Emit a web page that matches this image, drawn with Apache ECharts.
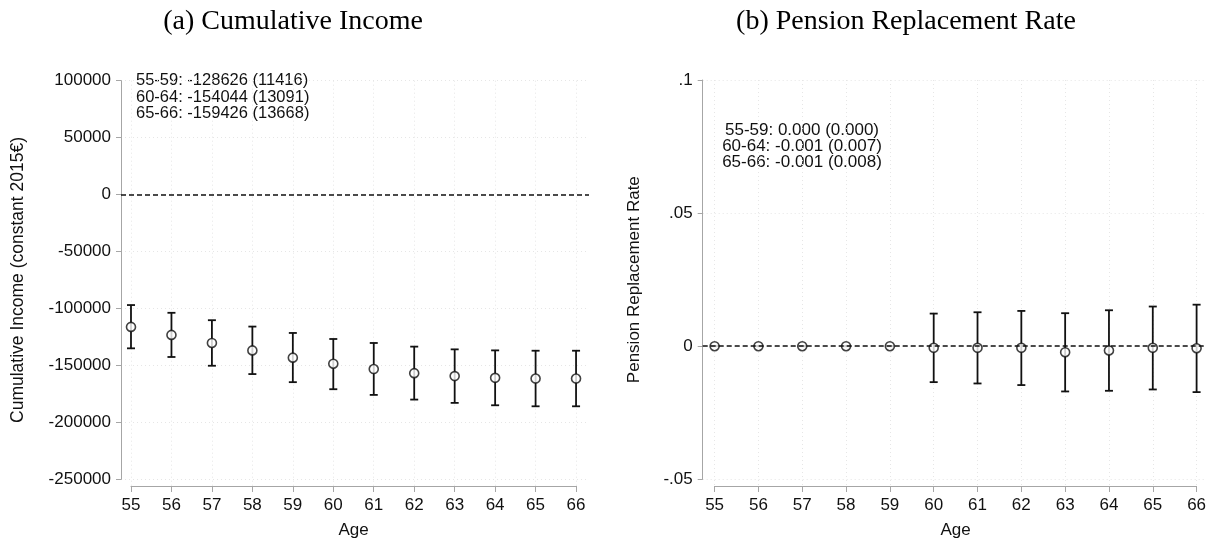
<!DOCTYPE html>
<html lang="en">
<head>
    <meta charset="utf-8"/>
    <title>Cumulative Income / Pension Replacement Rate</title>
    <script src="https://cdn.jsdelivr.net/npm/echarts@6/dist/echarts.min.js"></script>
</head>
<body style="margin:0; background:#fff;">
<div id="chart" style="width:1211px;height:544px;"></div>

<script type="text/javascript">
    // ages on the x axis
    var ages = [55, 56, 57, 58, 59, 60, 61, 62, 63, 64, 65, 66];

    // (a) cumulative income: point estimate, lower and upper CI
    var incomeEst = [-116200, -123200, -130300, -136800, -143200, -148500, -153200, -156800, -159400, -160900, -161500, -161500];
    var incomeLow = [-135000, -142600, -150300, -157600, -164700, -170900, -175900, -180000, -182900, -185000, -185900, -185900];
    var incomeHigh = [-97000, -103800, -110300, -115900, -121500, -126800, -130300, -133500, -135900, -136800, -137100, -137100];

    // (b) pension replacement rate
    var rateEst = [0, 0, 0, 0, 0, -0.0006, -0.0006, -0.0006, -0.00225, -0.0016, -0.0006, -0.00075];
    var rateLow = [0, 0, 0, 0, 0, -0.0135, -0.014, -0.0146, -0.017, -0.01675, -0.01625, -0.01725];
    var rateHigh = [0, 0, 0, 0, 0, 0.01225, 0.01275, 0.01325, 0.0124, 0.0135, 0.0149, 0.0156];

    // text boxes
    var incomeNotes = ['55-59: -128626 (11416)', '60-64: -154044 (13091)', '65-66: -159426 (13668)'];
    var rateNotes = ['55-59: 0.000 (0.000)', '60-64: -0.001 (0.007)', '65-66: -0.001 (0.008)'];

    var rateTickLabels = {'0.1': '.1', '0.05': '.05', '0': '0', '-0.05': '-.05'};

    var chart = echarts.init(document.getElementById('chart'));

    var sans = 'Liberation Sans, Arial, sans-serif';
    var serif = 'Liberation Serif, Times New Roman, serif';
    var axisGray = '#a6a6a6';
    var gridLine = {show: true, lineStyle: {color: '#e6e6e6', type: [1, 3], width: 1}};

    function zip(a, b, c) {
        return ages.map(function (x, i) {
            return c ? [x, a[i], b[i], c[i]] : [x, a[i]];
        });
    }

    // error bar with caps
    function errorBar(params, api) {
        var x = api.value(0);
        var lo = api.coord([x, api.value(1)]);
        var hi = api.coord([x, api.value(2)]);
        var w = 4;
        var style = {stroke: '#111', lineWidth: 1.8};
        return {
            type: 'group',
            children: [
                {type: 'line', shape: {x1: hi[0], y1: hi[1], x2: lo[0], y2: lo[1]}, style: style},
                {type: 'line', shape: {x1: hi[0] - w, y1: hi[1], x2: hi[0] + w, y2: hi[1]}, style: style},
                {type: 'line', shape: {x1: lo[0] - w, y1: lo[1], x2: lo[0] + w, y2: lo[1]}, style: style}
            ]
        };
    }

    function zeroLine() {
        return {
            silent: true,
            symbol: 'none',
            label: {show: false},
            lineStyle: {color: '#111', type: [5, 3], width: 1.5},
            data: [{yAxis: 0}]
        };
    }

    function displayAxis(gridIndex) {
        return {
            type: 'value', gridIndex: gridIndex, min: 55, max: 66, interval: 1,
            name: 'Age', nameLocation: 'middle', nameGap: 36,
            nameTextStyle: {fontFamily: sans, fontSize: 17, color: '#111'},
            axisLine: {show: true, lineStyle: {color: axisGray, width: 1}},
            axisTick: {show: true, length: 6, lineStyle: {color: axisGray}},
            axisLabel: {fontFamily: sans, fontSize: 17, color: '#111', margin: 11},
            splitLine: gridLine
        };
    }

    function notes(lines, x, y0, step, align, size) {
        return lines.map(function (t, i) {
            return {
                type: 'text', x: x, y: y0 + i * step,
                style: {text: t, fontFamily: sans, fontSize: size, fill: '#111', align: align, verticalAlign: 'middle'}
            };
        });
    }

    chart.setOption({
        animation: false,
        grid: [
            {left: 121, width: 468, top: 80.7, bottom: 64.7},   // (a) data
            {left: 131, width: 445, top: 80.7, bottom: 53.3},   // (a) age axis
            {left: 702.7, width: 503.1, top: 80, bottom: 64.7}, // (b) data
            {left: 714.6, width: 482, top: 80, bottom: 53.3}    // (b) age axis
        ],
        xAxis: [
            {type: 'value', gridIndex: 0, min: 54.753, max: 66.32, show: false},
            displayAxis(1),
            {type: 'value', gridIndex: 2, min: 54.728, max: 66.21, show: false},
            displayAxis(3)
        ],
        yAxis: [
            {
                type: 'value', gridIndex: 0, min: -250000, max: 100000, interval: 50000,
                name: 'Cumulative Income (constant 2015€)', nameLocation: 'middle', nameGap: 94,
                nameTextStyle: {fontFamily: sans, fontSize: 17.5, color: '#111'},
                axisLine: {show: true, lineStyle: {color: axisGray}},
                axisTick: {show: true, length: 5, lineStyle: {color: axisGray}},
                axisLabel: {fontFamily: sans, fontSize: 17, color: '#111', margin: 10, formatter: function (v) { return String(v); }},
                splitLine: gridLine
            },
            {type: 'value', gridIndex: 1, min: 0, max: 1, show: false},
            {
                type: 'value', gridIndex: 2, min: -0.05, max: 0.1, interval: 0.05,
                name: 'Pension Replacement Rate', nameLocation: 'middle', nameGap: 60,
                nameTextStyle: {fontFamily: sans, fontSize: 17, color: '#111'},
                axisLine: {show: true, lineStyle: {color: axisGray}},
                axisTick: {show: true, length: 5, lineStyle: {color: axisGray}},
                axisLabel: {
                    fontFamily: sans, fontSize: 17, color: '#111', margin: 10,
                    formatter: function (v) {
                        var k = String(Math.round(v * 1000) / 1000);
                        return rateTickLabels[k] || k;
                    }
                },
                splitLine: gridLine
            },
            {type: 'value', gridIndex: 3, min: 0, max: 1, show: false}
        ],
        graphic: [
            {type: 'text', x: 293, y: 22, style: {text: '(a) Cumulative Income', fontFamily: serif, fontSize: 28, fill: '#000', align: 'center', verticalAlign: 'middle'}},
            {type: 'text', x: 906, y: 22, style: {text: '(b) Pension Replacement Rate', fontFamily: serif, fontSize: 28, fill: '#000', align: 'center', verticalAlign: 'middle'}}
        ].concat(notes(incomeNotes, 136, 80.5, 16.7, 'left', 16.5))
         .concat(notes(rateNotes, 802, 130.2, 16.2, 'center', 17)),
        series: [
            {
                type: 'custom', xAxisIndex: 0, yAxisIndex: 0,
                data: zip(incomeEst, incomeLow, incomeHigh).map(function (d) { return [d[0], d[2], d[3]]; }),
                encode: {x: 0, y: [1, 2]},
                renderItem: errorBar, z: 3
            },
            {
                type: 'scatter', xAxisIndex: 0, yAxisIndex: 0,
                data: zip(incomeEst),
                symbol: 'circle', symbolSize: 9,
                itemStyle: {color: '#fff', borderColor: '#111', borderWidth: 1.6},
                markLine: zeroLine(), z: 4
            },
            {
                type: 'custom', xAxisIndex: 2, yAxisIndex: 2,
                data: zip(rateEst, rateLow, rateHigh).map(function (d) { return [d[0], d[2], d[3]]; }),
                encode: {x: 0, y: [1, 2]},
                renderItem: errorBar, z: 3
            },
            {
                type: 'scatter', xAxisIndex: 2, yAxisIndex: 2,
                data: zip(rateEst),
                symbol: 'circle', symbolSize: 9,
                itemStyle: {color: '#fff', borderColor: '#111', borderWidth: 1.6},
                markLine: zeroLine(), z: 4
            }
        ]
    });
</script>
</body>
</html>
